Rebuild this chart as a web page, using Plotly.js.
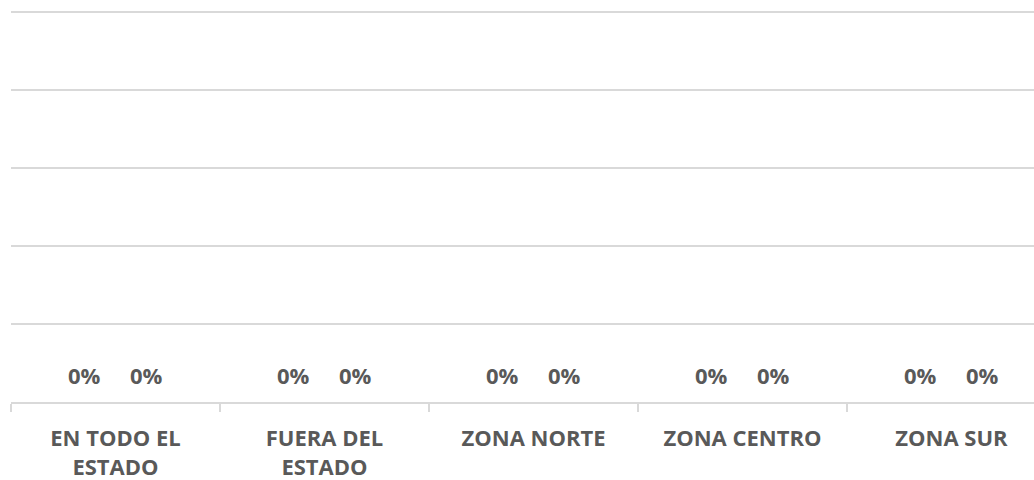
<!DOCTYPE html>
<html>
<head>
<meta charset="utf-8">
<script src="https://cdn.plot.ly/plotly-3.0.1.min.js"></script>
<style>
  html, body { margin: 0; padding: 0; background: #ffffff; overflow: hidden; }
  #chart { width: 1034px; height: 480px; }
</style>
</head>
<body>
<div id="chart"></div>
<script>
// Data
const categories = ["EN TODO EL<br>ESTADO", "FUERA DEL<br>ESTADO", "ZONA NORTE", "ZONA CENTRO", "ZONA SUR"];
const seriesA = [0, 0, 0, 0, 0];
const seriesB = [0, 0, 0, 0, 0];
const seriesNames = ["Serie 1", "Serie 2"];

const textColor = "#595959";
const gridColor = "#d9d9d9";
const fontFamily = "'Open Sans', 'Noto Sans', Arial, sans-serif";

const fmt = v => Math.round(v * 100) + "%";

const traces = [seriesA, seriesB].map((vals, k) => ({
  type: "bar",
  name: seriesNames[k],
  x: categories,
  y: vals,
  marker: { color: k === 0 ? "#4472c4" : "#ed7d31" },
  hoverinfo: "skip",
  showlegend: false
}));

// data labels as annotations placed at each bar's slot
const groupHalf = 0.15;
const annotations = [];
[seriesA, seriesB].forEach((vals, k) => {
  vals.forEach((v, i) => {
    annotations.push({
      x: i + (k === 0 ? -groupHalf : groupHalf),
      y: v,
      xref: "x", yref: "y",
      text: "<b>" + fmt(v) + "</b>",
      showarrow: false,
      yanchor: "bottom",
      yshift: 10,
      font: { family: fontFamily, size: 22, color: textColor }
    });
  });
});

const plotLeft = 11, catWidth = 209, winWidth = 1034;
const visibleCats = (winWidth - plotLeft) / catWidth;

const layout = {
  width: 1034,
  height: 480,
  margin: { l: plotLeft, r: 0, t: 10, b: 78, pad: 0 },
  paper_bgcolor: "#ffffff",
  plot_bgcolor: "#ffffff",
  barmode: "group",
  bargap: 0.4,
  showlegend: false,
  font: { family: fontFamily, color: textColor },
  xaxis: {
    type: "category",
    range: [-0.5, -0.5 + visibleCats],
    showgrid: false,
    showline: true,
    linecolor: gridColor,
    linewidth: 2,
    ticks: "outside",
    tickson: "boundaries",
    ticklen: 8,
    tickwidth: 2,
    tickcolor: gridColor,
    ticklabelstandoff: 16,
    tickfont: { family: fontFamily, size: 22, color: textColor, weight: "bold" },
    fixedrange: true
  },
  yaxis: {
    range: [0, 5 + 2 / 78],
    dtick: 1,
    showgrid: true,
    gridcolor: gridColor,
    gridwidth: 2,
    zeroline: false,
    showticklabels: false,
    ticks: "",
    fixedrange: true
  },
  annotations: annotations
};

Plotly.newPlot("chart", traces, layout, { displayModeBar: false, staticPlot: true });
</script>
</body>
</html>
